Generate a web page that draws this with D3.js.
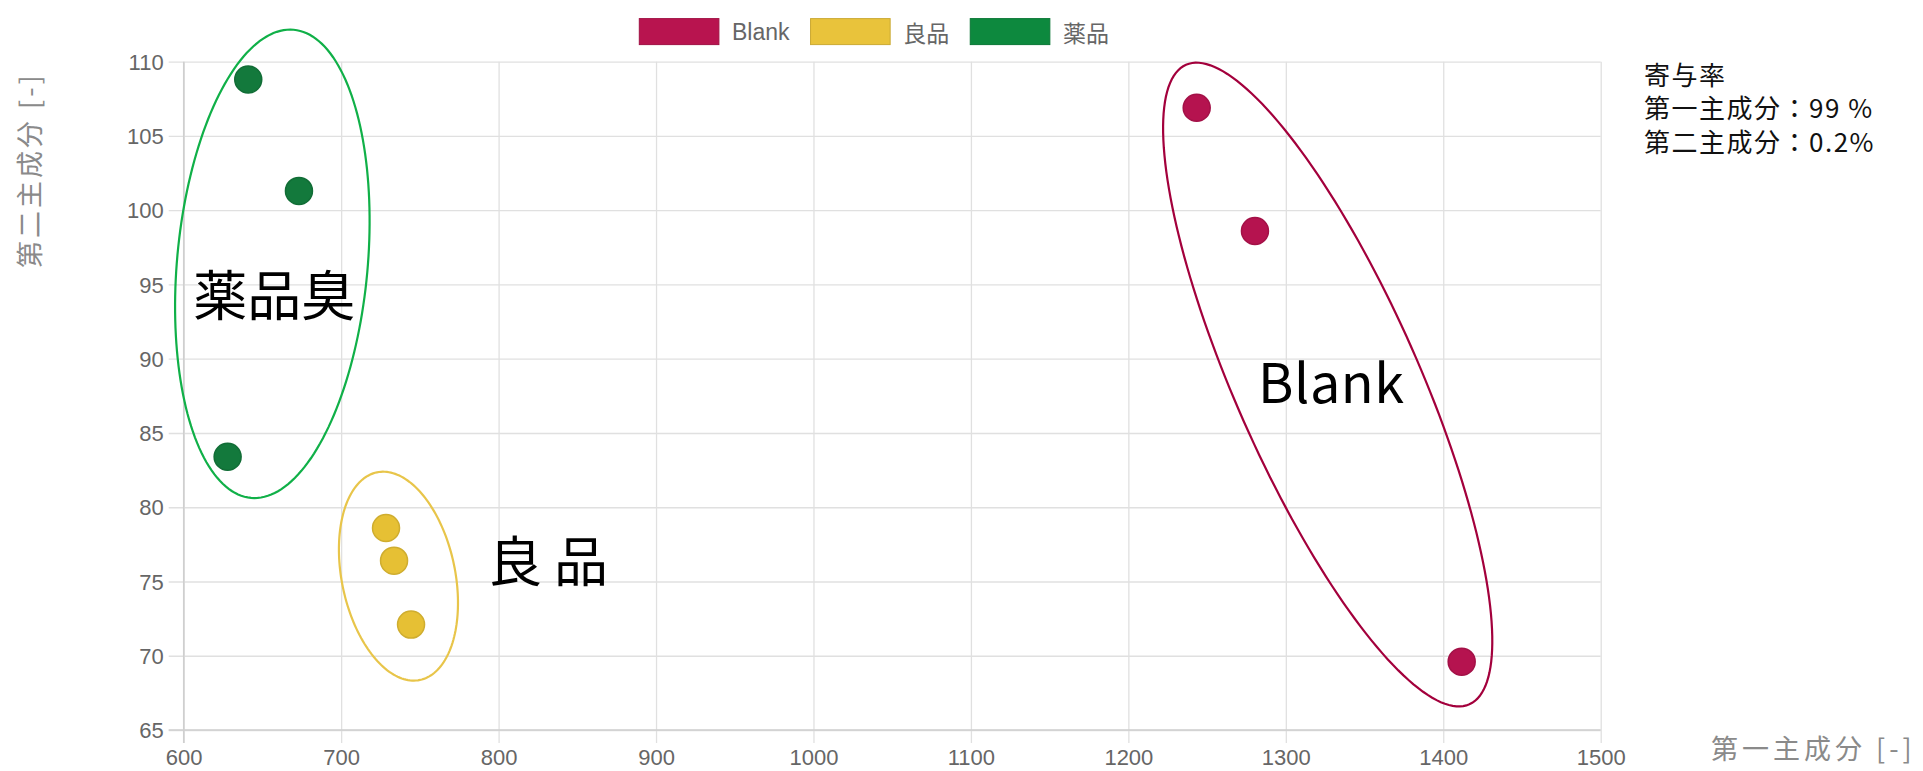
<!DOCTYPE html>
<html>
<head>
<meta charset="utf-8">
<script src="https://cdn.jsdelivr.net/npm/d3@7"></script>
<style>
  body { margin: 0; background: #ffffff; }
  svg { display: block; }
</style>
</head>
<body>
<svg id="chart" width="1923" height="771"></svg>
<script>
// ---- data ----
const seriesNames  = ["Blank", "良品", "薬品"];
const seriesFill   = ["#b5134f", "#e6c034", "#13793c"];
const legendFill   = ["#b8144f", "#e9c33b", "#0d893e"];

const blankX = [1243.4, 1280.4, 1411.7];
const blankY = [106.9, 98.6, 69.6];
const goodX  = [728.5, 733.6, 744.4];
const goodY  = [78.6, 76.4, 72.1];
const drugX  = [641.0, 673.2, 627.9];
const drugY  = [108.8, 101.3, 83.4];

const xTicks = [600, 700, 800, 900, 1000, 1100, 1200, 1300, 1400, 1500];
const yTicks = [65, 70, 75, 80, 85, 90, 95, 100, 105, 110];

// group outlines: centre and two semi-axis vectors, all in data units
const groupCentre = [[1326.6, 88.26], [736.4, 75.36], [656.3, 96.39]];
const groupAxisU  = [[90.0, -21.53], [-13.66, 6.99], [13.53, 15.76]];
const groupAxisV  = [[-53.2, -2.50], [35.26, 0.774], [60.28, -0.582]];
const groupStroke = ["#a3003c", "#e8c54a", "#10b048"];
const groupLabel  = ["Blank", "良 品", "薬品臭"];
const groupLabelAt = [[1328.9, 88.6], [831.4, 76.55], [657.5, 94.45]];

const ratioLines = ["寄与率", "第一主成分：99 %", "第二主成分：0.2%"];
const xTitle = "第一主成分 [-]";
const yTitle = "第二主成分 [-]";

// ---- layout ----
const svg = d3.select("#chart");
const plot = { left: 183.7, right: 1600.7, top: 61.7, bottom: 730 };
const x = d3.scaleLinear().domain([600, 1500]).range([plot.left, plot.right]);
const y = d3.scaleLinear().domain([65, 110]).range([plot.bottom, plot.top]);

const tickFont = "'Liberation Sans', Arial, sans-serif";
const cjkFont = "'Noto Sans CJK JP', 'Noto Sans', sans-serif";

// grid + axes
const xAxis = d3.axisBottom(x).tickValues(xTicks).tickSize(-(plot.bottom - plot.top)).tickFormat(d3.format("d"));
const yAxis = d3.axisLeft(y).tickValues(yTicks).tickSize(-(plot.right - plot.left)).tickFormat(d3.format("d"));

const gx = svg.append("g").attr("transform", `translate(0,${plot.bottom})`).call(xAxis);
gx.select(".domain").remove();
gx.selectAll(".tick line").attr("stroke", "#e0e0e0").attr("stroke-width", 1.3).attr("y1", 13);
gx.selectAll(".tick text").attr("fill", "#666").attr("font-family", tickFont).attr("font-size", 22)
  .attr("y", 35).attr("dy", null);

const gy = svg.append("g").attr("transform", `translate(${plot.left},0)`).call(yAxis);
gy.select(".domain").remove();
gy.selectAll(".tick line").attr("stroke", "#e0e0e0").attr("stroke-width", 1.3).attr("x1", -15);
gy.selectAll(".tick text").attr("fill", "#666").attr("font-family", tickFont).attr("font-size", 22)
  .attr("x", -20).attr("dy", "0.35em");

// axis borders
svg.append("line").attr("x1", x(600)).attr("x2", x(600)).attr("y1", plot.top).attr("y2", plot.bottom + 13)
  .attr("stroke", "#cfcfcf").attr("stroke-width", 1.5);
svg.append("line").attr("x1", plot.left - 15).attr("x2", plot.right).attr("y1", y(65)).attr("y2", y(65))
  .attr("stroke", "#cfcfcf").attr("stroke-width", 1.5);

// axis titles
svg.append("text").attr("x", 1711).attr("y", 759)
  .attr("font-family", cjkFont).attr("font-size", 27).attr("letter-spacing", 4)
  .attr("fill", "#8a8a8a").text(xTitle);
svg.append("text").attr("transform", "translate(40,268) rotate(-90)")
  .attr("font-family", cjkFont).attr("font-size", 27).attr("letter-spacing", 3)
  .attr("fill", "#8a8a8a").text(yTitle);

// group outlines
const steps = d3.range(0, 181).map(i => i / 180 * 2 * Math.PI);
const outline = d3.line().x(d => x(d[0])).y(d => y(d[1])).curve(d3.curveLinearClosed);
groupCentre.forEach((c, i) => {
  const u = groupAxisU[i], v = groupAxisV[i];
  const pts = steps.map(t => [c[0] + Math.cos(t) * u[0] + Math.sin(t) * v[0],
                              c[1] + Math.cos(t) * u[1] + Math.sin(t) * v[1]]);
  svg.append("path").attr("d", outline(pts)).attr("fill", "none")
    .attr("stroke", groupStroke[i]).attr("stroke-width", 2.2);
});

// points
const series = [
  blankX.map((v, i) => [v, blankY[i]]),
  goodX.map((v, i) => [v, goodY[i]]),
  drugX.map((v, i) => [v, drugY[i]])
];
series.forEach((pts, s) => {
  svg.append("g").selectAll("circle").data(pts).join("circle")
    .attr("cx", d => x(d[0])).attr("cy", d => y(d[1])).attr("r", 13.5)
    .attr("fill", seriesFill[s]).attr("stroke", d3.color(seriesFill[s]).darker(0.3)).attr("stroke-width", 1.5);
});

// group labels
groupLabel.forEach((t, i) => {
  const p = groupLabelAt[i];
  svg.append("text").attr("x", x(p[0])).attr("y", y(p[1]))
    .attr("text-anchor", "middle").attr("dominant-baseline", "central")
    .attr("font-family", cjkFont).attr("font-size", 54).attr("fill", "#000")
    .attr("letter-spacing", i === 0 ? 0.5 : 0)
    .text(t);
});

// contribution ratio note
svg.append("g").selectAll("text").data(ratioLines).join("text")
  .attr("x", 1644).attr("y", (d, i) => 73.5 + i * 33.3)
  .attr("dominant-baseline", "central")
  .attr("font-family", cjkFont).attr("font-size", 26).attr("letter-spacing", 1.5)
  .attr("fill", "#111").text(d => d);

// legend
const legend = svg.append("g");
let lx = 639.3;
seriesNames.forEach((name, i) => {
  legend.append("rect").attr("x", lx).attr("y", 18.6).attr("width", 79.6).attr("height", 26)
    .attr("fill", legendFill[i]).attr("stroke", d3.color(legendFill[i]).darker(0.4)).attr("stroke-width", 1);
  const t = legend.append("text").attr("x", lx + 92.7).attr("y", 31.6)
    .attr("dominant-baseline", "central")
    .attr("font-family", i === 0 ? tickFont : cjkFont).attr("font-size", 23).attr("fill", "#666").text(name);
  lx += 92.7 + t.node().getComputedTextLength() + 21;
});
</script>
</body>
</html>
